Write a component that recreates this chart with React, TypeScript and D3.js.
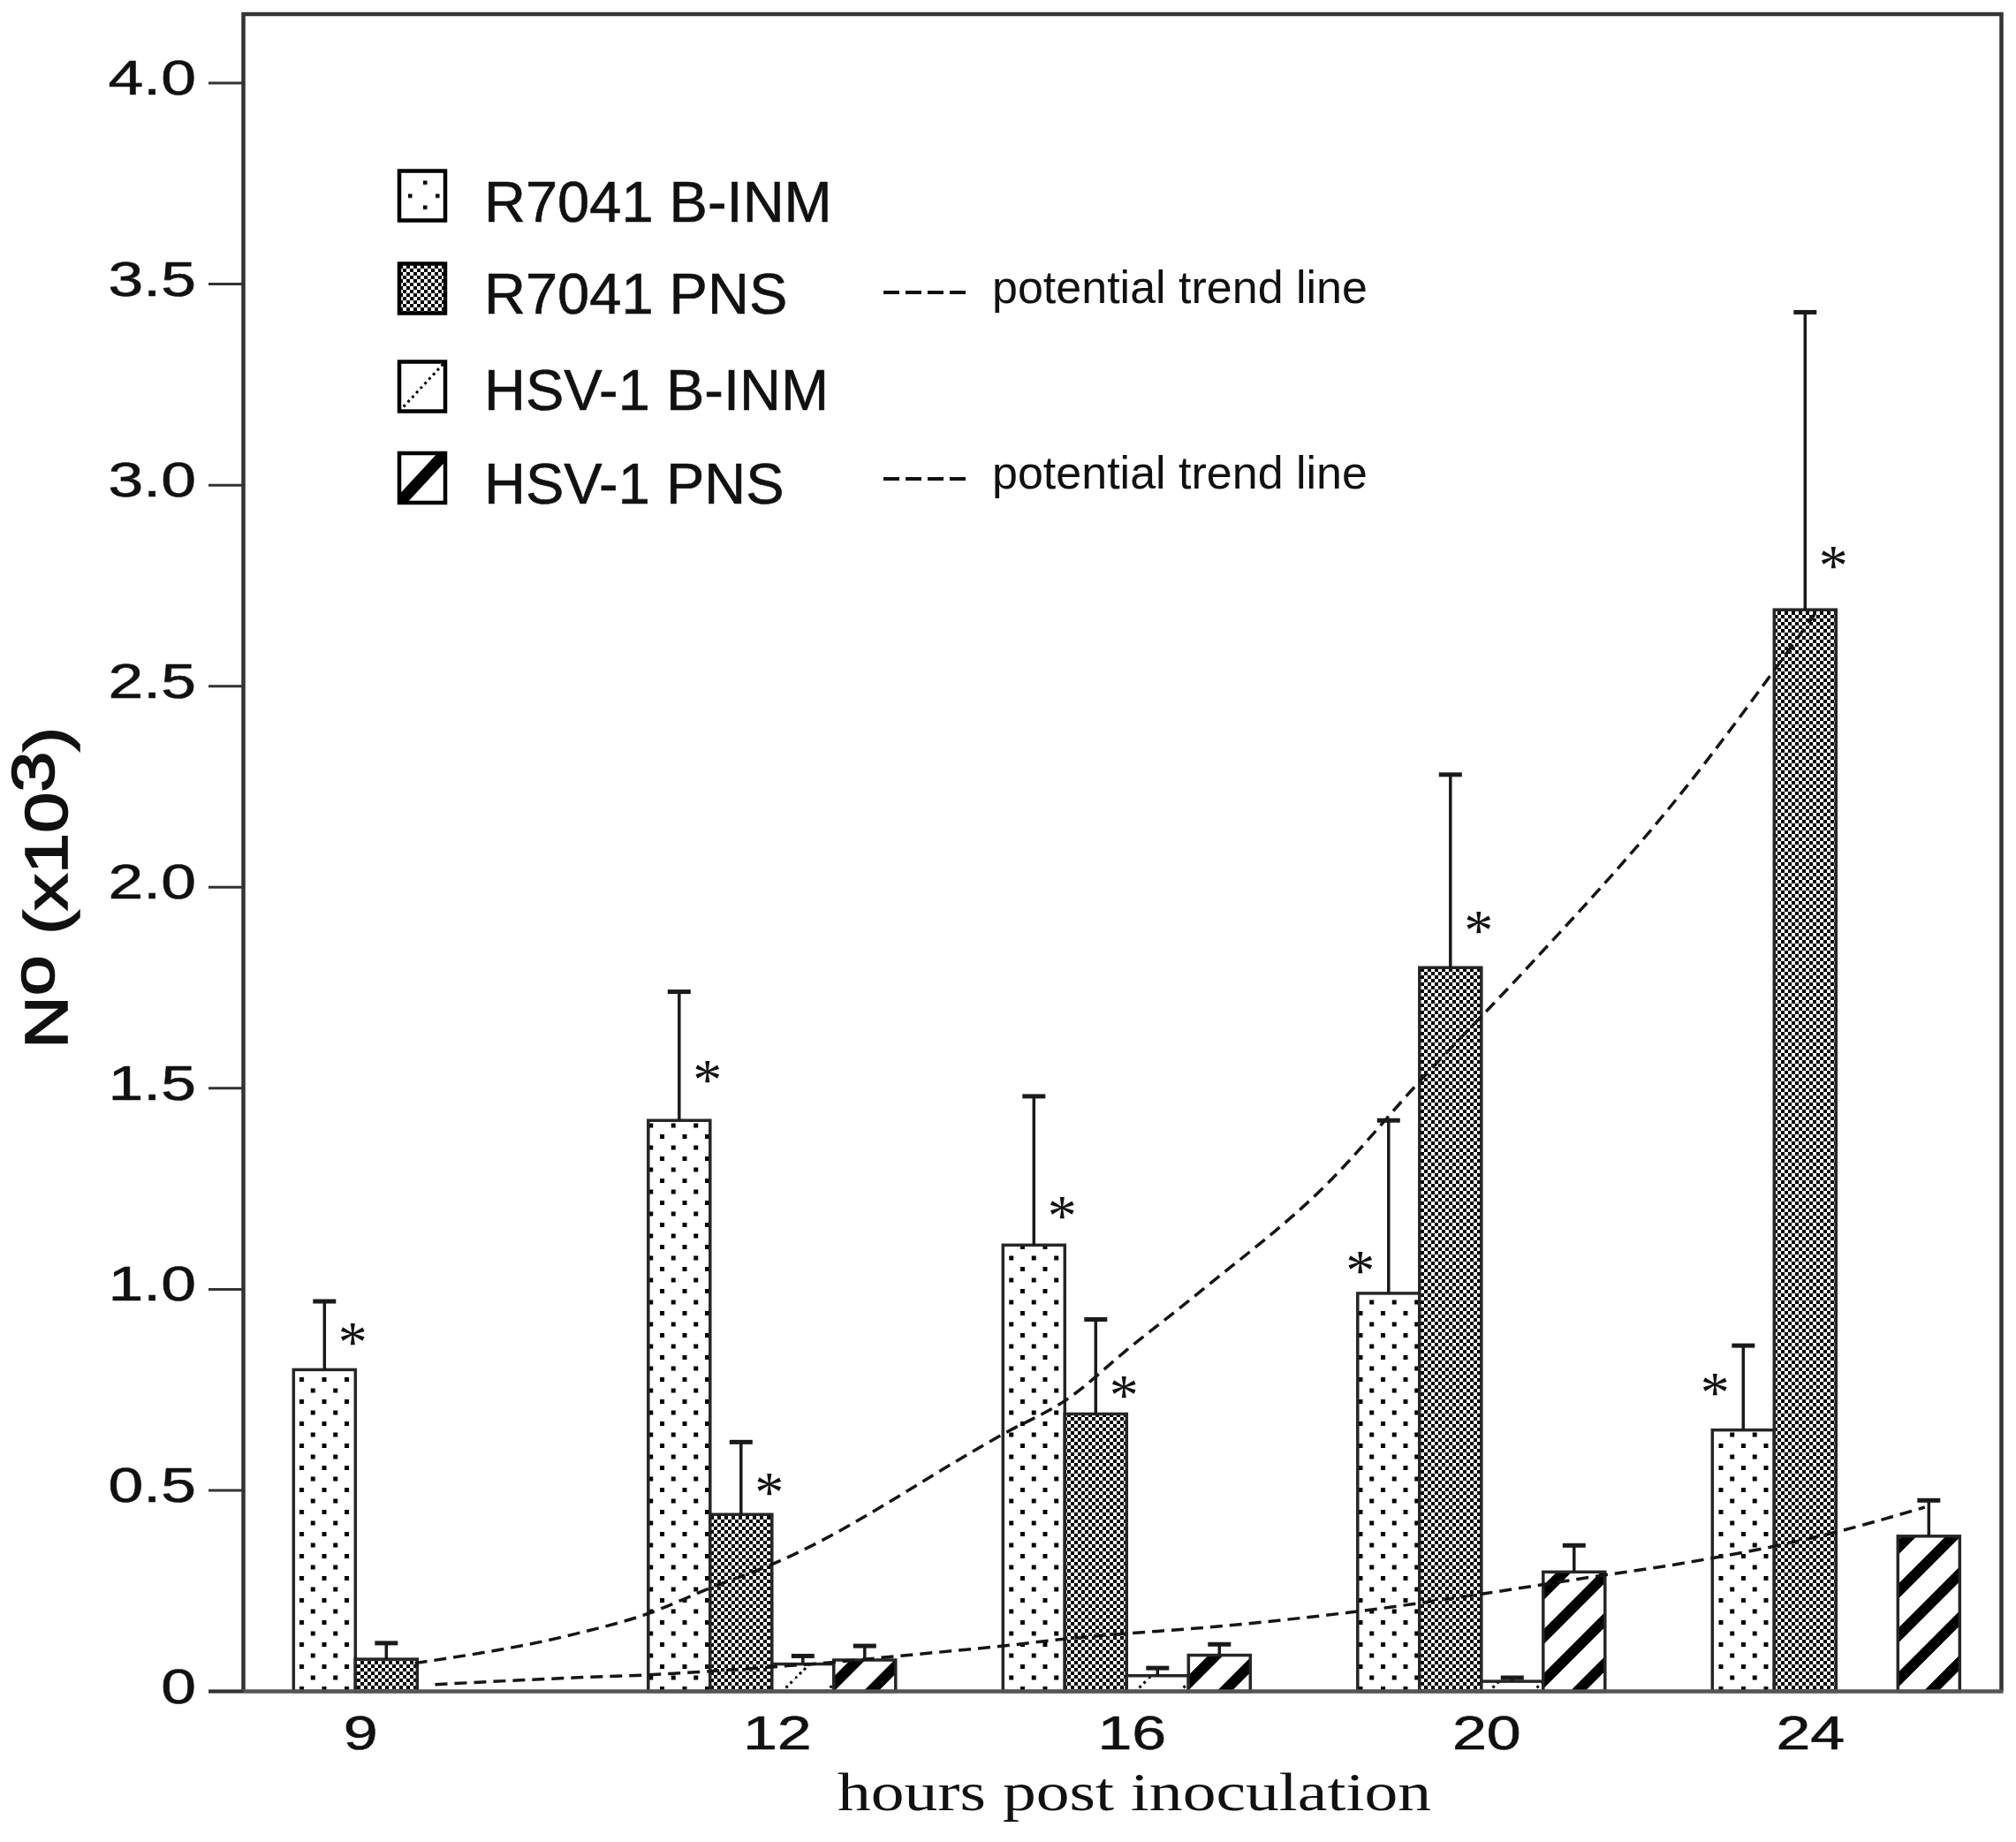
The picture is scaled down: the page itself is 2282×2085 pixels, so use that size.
import React from 'react';
import * as d3 from 'd3';

// ---------- data ----------
const categories = ['9', '12', '16', '20', '24'];
const seriesNames = ['R7041 B-INM', 'R7041 PNS', 'HSV-1 B-INM', 'HSV-1 PNS'];

const r7041BINM = [0.8, 1.42, 1.11, 0.99, 0.65];
const r7041BINMErr = [0.17, 0.32, 0.37, 0.43, 0.21];
const r7041PNS = [0.08, 0.44, 0.69, 1.8, 2.69];
const r7041PNSErr = [0.04, 0.18, 0.235, 0.48, 0.74];
const hsvBINM: (number | null)[] = [null, 0.068, 0.039, 0.025, null];
const hsvBINMErr: (number | null)[] = [null, 0.02, 0.019, 0.009, null];
const hsvPNS: (number | null)[] = [null, 0.078, 0.09, 0.297, 0.386];
const hsvPNSErr: (number | null)[] = [null, 0.035, 0.027, 0.066, 0.089];

// significance asterisks: value height and side (1 right, -1 left of error bar)
const starBINM: (number | null)[] = [0.886, 1.54, 1.2, 1.065, 0.761];
const starBINMSide = [1, 1, 1, -1, -1];
const starPNS: (number | null)[] = [null, 0.513, 0.754, 1.91, 2.817];
const starPNSSide = [0, 1, 1, 1, 1];

const yTicks = [0, 0.5, 1, 1.5, 2, 2.5, 3, 3.5, 4];

// potential (power) trend lines; x in group units
const trendR7041X = [0.342, 0.79, 0.998, 1.172, 1.349, 2.009, 2.18, 2.352, 2.567, 2.908, 3.187, 3.466, 3.897, 4.288];
const trendR7041Y = [0.07, 0.142, 0.193, 0.256, 0.316, 0.644, 0.726, 0.851, 1.002, 1.257, 1.529, 1.788, 2.217, 2.678];
const trendHSVX = [0.399, 0.791, 0.998, 1.172, 1.354, 1.516, 1.705, 2.001, 2.181, 2.637, 3.01, 3.362, 3.656, 3.905, 4.325, 4.599];
const trendHSVY = [0.017, 0.034, 0.041, 0.05, 0.061, 0.072, 0.088, 0.113, 0.131, 0.164, 0.2, 0.244, 0.284, 0.317, 0.391, 0.458];

const legendTrendLabel = 'potential trend line';
const xTitle = 'hours post inoculation';

const SANS = "'Liberation Sans', Arial, sans-serif";
const SERIF = "'Liberation Serif', 'Times New Roman', serif";

export default function App() {
  const W = 2282;
  const H = 2085;
  const plotLeft = 275.5;
  const plotRight = 2265.5;
  const plotTop = 16;
  const axisY = 1914.5;

  const y = d3.scaleLinear().domain([0, 4]).range([axisY, 94]);
  const xg = d3.scaleLinear().domain([0, 4]).range([332.3, 1938.3]);
  const inner = d3.scaleBand<string>().domain(seriesNames).range([0, 280]);
  const bw = inner.bandwidth();

  const seriesVals: (number | null)[][] = [r7041BINM, r7041PNS, hsvBINM, hsvPNS];
  const seriesErr: (number | null)[][] = [r7041BINMErr, r7041PNSErr, hsvBINMErr, hsvPNSErr];
  const fills = ['url(#dots)', 'url(#checker)', 'url(#thinDiag)', 'url(#thickDiag)'];

  const line = d3
    .line<[number, number]>()
    .x((d) => xg(d[0]))
    .y((d) => y(d[1]))
    .curve(d3.curveMonotoneX);
  const trend1 = line(trendR7041X.map((v, i) => [v, trendR7041Y[i]] as [number, number])) || '';
  const trend2 = line(trendHSVX.map((v, i) => [v, trendHSVY[i]] as [number, number])) || '';

  const bars: JSX.Element[] = [];
  const errs: JSX.Element[] = [];
  seriesVals.forEach((vals, s) => {
    vals.forEach((v, i) => {
      if (v == null) return;
      const x0 = xg(i) + (inner(seriesNames[s]) as number);
      bars.push(
        <rect
          key={`b${s}-${i}`}
          x={x0}
          y={y(v)}
          width={bw}
          height={axisY - y(v)}
          fill={fills[s]}
          stroke="#262626"
          strokeWidth={3.5}
        />
      );
      const e = seriesErr[s][i];
      if (e != null) {
        const cx = x0 + bw / 2;
        errs.push(
          <g key={`e${s}-${i}`} stroke="#1a1a1a">
            <line x1={cx} x2={cx} y1={y(v)} y2={y(v + e)} strokeWidth={3.5} />
            <line x1={cx - 13} x2={cx + 13} y1={y(v + e)} y2={y(v + e)} strokeWidth={5} />
          </g>
        );
      }
    });
  });

  const stars: JSX.Element[] = [];
  const addStars = (vals: (number | null)[], sides: number[], sIdx: number) => {
    vals.forEach((v, i) => {
      if (v == null || !sides[i]) return;
      const cx = xg(i) + (inner(seriesNames[sIdx]) as number) + bw / 2 + sides[i] * 32;
      stars.push(
        <text
          key={`s${sIdx}-${i}`}
          x={cx}
          y={y(v) + 30}
          textAnchor="middle"
          fontFamily={SERIF}
          fontSize={66}
          fill="#111"
        >
          *
        </text>
      );
    });
  };
  addStars(starBINM, starBINMSide, 0);
  addStars(starPNS, starPNSSide, 1);

  const legendRows = [221.5, 326.5, 437.5, 541];
  const legendTextBase = [251, 355, 464, 570];
  const boxX = 452;
  const boxW = 52;
  const boxH = 56;

  return (
    <svg
      width={W}
      height={H}
      viewBox={`0 0 ${W} ${H}`}
      style={{ position: 'absolute', left: 0, top: 0, background: '#fff', display: 'block' }}
    >
      <defs>
        <pattern id="dots" patternUnits="userSpaceOnUse" x={7.5} y={9} width={25.5} height={25}>
          <rect width={25.5} height={25} fill="#fff" />
          <rect x={0} y={0} width={5} height={5} fill="#000" />
          <rect x={12.75} y={12.5} width={5} height={5} fill="#000" />
        </pattern>
        <pattern id="legendDots" patternUnits="objectBoundingBox" width={1} height={1}>
          <rect width={boxW} height={boxH} fill="#fff" />
          <rect x={27} y={11} width={4.5} height={4.5} fill="#000" />
          <rect x={10} y={26} width={4.5} height={4.5} fill="#000" />
          <rect x={41} y={26} width={4.5} height={4.5} fill="#000" />
          <rect x={27} y={39} width={4.5} height={4.5} fill="#000" />
        </pattern>
        <pattern id="checker" patternUnits="userSpaceOnUse" width={8} height={8}>
          <rect width={8} height={8} fill="#fff" />
          <rect width={4} height={4} fill="#000" />
          <rect x={4} y={4} width={4} height={4} fill="#000" />
        </pattern>
        <pattern id="thinDiag" patternUnits="userSpaceOnUse" width={50} height={50}>
          <rect width={50} height={50} fill="#fff" />
          <path d="M0,50 L50,0" stroke="#000" strokeWidth={3} strokeDasharray="3 4" />
        </pattern>
        <pattern id="thickDiag" patternUnits="userSpaceOnUse" width={50} height={50}>
          <rect width={50} height={50} fill="#fff" />
          <path d="M-25,25 L25,-25 M0,50 L50,0 M25,75 L75,25" stroke="#000" strokeWidth={12} />
        </pattern>
        {legendRows.map((cy, k) => (
          <clipPath id={`lclip${k}`} key={k}>
            <rect x={boxX} y={cy - boxH / 2} width={boxW} height={boxH} />
          </clipPath>
        ))}
      </defs>

      <rect x={0} y={0} width={W} height={H} fill="#fff" />

      {/* bars */}
      {bars}

      {/* trend lines */}
      <path d={trend1} fill="none" stroke="#151515" strokeWidth={3.5} strokeDasharray="14 8" />
      <path d={trend2} fill="none" stroke="#151515" strokeWidth={3.5} strokeDasharray="14 8" />

      {/* error bars */}
      {errs}
      {stars}

      {/* frame */}
      <path
        d={`M${plotLeft},${axisY} L${plotLeft},${plotTop} L${plotRight},${plotTop} L${plotRight},${axisY}`}
        fill="none"
        stroke="#333"
        strokeWidth={4.5}
      />
      <line x1={236} x2={plotRight + 2} y1={axisY} y2={axisY} stroke="#555" strokeWidth={4.5} />

      {/* y ticks */}
      {yTicks.map((t) => (
        <g key={t}>
          <line x1={236} x2={plotLeft} y1={y(t)} y2={y(t)} stroke="#333" strokeWidth={3} />
          <text
            transform={`translate(222, ${y(t) + 13}) scale(1.3, 1)`}
            textAnchor="end"
            fontFamily={SANS}
            fontSize={55}
            fill="#111"
            stroke="#111"
            strokeWidth={0.6}
          >
            {t === 0 ? '0' : d3.format('.1f')(t)}
          </text>
        </g>
      ))}

      {/* x labels */}
      {categories.map((c, i) => {
        const nb = seriesVals.filter((a) => a[i] != null).length;
        const cx = xg(i) + (bw * nb) / 2 + 6;
        return (
          <text
            key={c}
            transform={`translate(${cx}, 1980) scale(1.32, 1)`}
            textAnchor="middle"
            fontFamily={SANS}
            fontSize={53}
            fill="#111"
            stroke="#111"
            strokeWidth={0.6}
          >
            {c}
          </text>
        );
      })}

      {/* axis titles */}
      <text
        transform="translate(1284, 2049) scale(1.22, 1)"
        textAnchor="middle"
        fontFamily={SERIF}
        fontSize={62}
        fill="#111"
      >
        {xTitle}
      </text>
      <text
        transform="translate(76, 1005) rotate(-90) scale(1.22, 1)"
        textAnchor="middle"
        fontFamily={SANS}
        fontSize={68}
        fill="#111"
        stroke="#111"
        strokeWidth={1.6}
      >
        N<tspan dy={-15}>o</tspan>
        <tspan dy={15}> (x10</tspan>
        <tspan dy={-15}>3</tspan>
        <tspan dy={15}>)</tspan>
      </text>

      {/* legend */}
      {seriesNames.map((name, k) => {
        const cy = legendRows[k];
        const bx = boxX;
        const by = cy - boxH / 2;
        return (
          <g key={name}>
            <rect
              x={bx}
              y={by}
              width={boxW}
              height={boxH}
              fill={k === 0 ? 'url(#legendDots)' : k === 1 ? 'url(#checker)' : '#fff'}
            />
            {k === 2 && (
              <line
                x1={bx}
                y1={by + boxH}
                x2={bx + boxW}
                y2={by}
                stroke="#000"
                strokeWidth={3}
                strokeDasharray="3 4"
                clipPath={`url(#lclip${k})`}
              />
            )}
            {k === 3 && (
              <line
                x1={bx}
                y1={by + boxH}
                x2={bx + boxW}
                y2={by}
                stroke="#000"
                strokeWidth={13}
                clipPath={`url(#lclip${k})`}
              />
            )}
            <rect x={bx} y={by} width={boxW} height={boxH} fill="none" stroke="#000" strokeWidth={4.5} />
            <text
              x={548}
              y={legendTextBase[k]}
              fontFamily={SANS}
              fontSize={65}
              fill="#111"
              stroke="#111"
              strokeWidth={0.6}
            >
              {name}
            </text>
          </g>
        );
      })}
      {[1, 3].map((k) => (
        <g key={`tl${k}`}>
          <line
            x1={1000}
            x2={1094}
            y1={k === 1 ? 331 : 542}
            y2={k === 1 ? 331 : 542}
            stroke="#111"
            strokeWidth={4}
            strokeDasharray="18 7"
          />
          <text x={1123} y={k === 1 ? 343 : 553} fontFamily={SANS} fontSize={52} fill="#111">
            {legendTrendLabel}
          </text>
        </g>
      ))}
    </svg>
  );
}
